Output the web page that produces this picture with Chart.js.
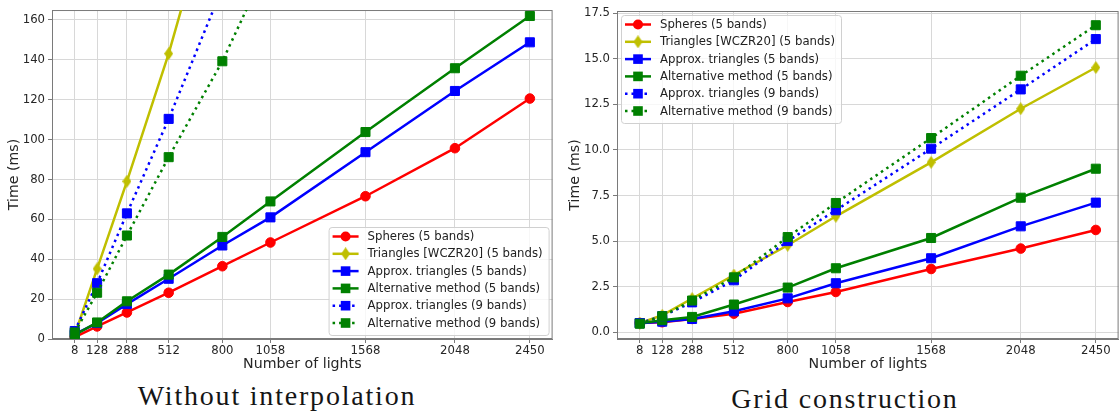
<!DOCTYPE html>
<html>
<head>
<meta charset="utf-8">
<script src="https://cdn.jsdelivr.net/npm/chart.js@4.4.0/dist/chart.umd.min.js"></script>
<style>
  html, body { margin: 0; padding: 0; background: #fff; width: 1120px; height: 416px; overflow: hidden; }
  #leftChart { position: absolute; left: 0; top: 0; }
  #rightChart { position: absolute; left: 560px; top: 0; }
  .caption { position: absolute; font-family: 'Liberation Serif', serif; font-size: 28px; line-height: 28px;
             color: #151515; letter-spacing: 1.8px; text-align: center; white-space: nowrap; }
</style>
</head>
<body>
<canvas id="leftChart" width="560" height="373"></canvas>
<canvas id="rightChart" width="566" height="373"></canvas>
<div class="caption" style="left:0; width:554px; top:382px;">Without interpolation</div>
<div class="caption" style="left:565px; width:560px; top:385px;">Grid construction</div>
<script>
// x values shared by both plots
const lights = [8, 128, 288, 512, 800, 1058, 1568, 2048, 2450]
const seriesLabels = [
	'Spheres (5 bands)',
	'Triangles [WCZR20] (5 bands)',
	'Approx. triangles (5 bands)',
	'Alternative method (5 bands)',
	'Approx. triangles (9 bands)',
	'Alternative method (9 bands)',
]

// without interpolation (ms)
const noInterpSpheres = [1.0, 6.3, 13.3, 23.2, 36.5, 48.4, 71.6, 95.7, 120.6]
const noInterpTriangles = [2.0, 35.2, 79.1, 143.1, 238, 330, 520, 700, 860]
const noInterpApprox5 = [2.5, 8.0, 17.5, 30.2, 46.9, 61.0, 93.7, 124.4, 148.8]
const noInterpAlt5 = [2.0, 8.3, 18.9, 32.3, 51.2, 69.0, 103.8, 135.8, 162.0]
const noInterpApprox9 = [4.0, 28.0, 63.0, 110.4, 176, 235, 350, 460, 550]
const noInterpAlt9 = [3.3, 23.2, 51.9, 91.2, 139.3, 191, 295, 395, 475]

// grid construction (ms)
const gridSpheres = [0.51, 0.55, 0.73, 1.02, 1.66, 2.21, 3.47, 4.59, 5.61]
const gridTriangles = [0.5, 0.93, 1.85, 3.14, 4.77, 6.36, 9.32, 12.26, 14.52]
const gridApprox5 = [0.5, 0.58, 0.73, 1.15, 1.86, 2.69, 4.06, 5.81, 7.11]
const gridAlt5 = [0.5, 0.66, 0.84, 1.52, 2.45, 3.51, 5.17, 7.38, 8.97]
const gridApprox9 = [0.5, 0.88, 1.64, 2.85, 5.0, 6.69, 10.07, 13.32, 16.08]
const gridAlt9 = [0.47, 0.88, 1.74, 3.01, 5.22, 7.09, 10.65, 14.07, 16.84]

const leftYTicks = [0, 20, 40, 60, 80, 100, 120, 140, 160]
const rightYTicks = [0, 2.5, 5, 7.5, 10, 12.5, 15, 17.5]

const colors = ['#ff0000', '#bfbf00', '#0000ff', '#008000', '#0000ff', '#008000']
const markers = ['circle', 'thinDiamond', 'rect', 'rect', 'rect', 'rect']
const dotted = [false, false, false, false, true, true]

const FONT = 'DejaVu Sans'
const TEXT = '#262626'
const SPINE = '#7a7a7a'
const GRID = '#d8d8d8'

// matplotlib style thin diamond marker
function thinDiamond(color) {
	const c = document.createElement('canvas')
	c.width = 9
	c.height = 13
	const g = c.getContext('2d')
	g.fillStyle = color
	g.beginPath()
	g.moveTo(4.5, 0)
	g.lineTo(9, 6.5)
	g.lineTo(4.5, 13)
	g.lineTo(0, 6.5)
	g.closePath()
	g.fill()
	return c
}

function makeDatasets(series) {
	return series.map((vals, i) => ({
		label: seriesLabels[i],
		data: lights.map((x, j) => ({ x: x, y: vals[j] })),
		borderColor: colors[i],
		backgroundColor: colors[i],
		borderWidth: 2.5,
		borderDash: dotted[i] ? [2.5, 4] : [],
		pointStyle: markers[i] === 'thinDiamond' ? thinDiamond(colors[i]) : markers[i],
		pointRadius: markers[i] === 'circle' ? 4.8 : 6.4,
		pointBorderWidth: 1,
		pointBorderColor: colors[i],
		pointBackgroundColor: colors[i],
		tension: 0,
		fill: false,
		order: series.length - i,
	}))
}

// frame around the plot area (top and right spines)
const frame = {
	id: 'frame',
	beforeDatasetsDraw(chart) {
		const { ctx, chartArea: a } = chart
		ctx.save()
		ctx.strokeStyle = SPINE
		ctx.lineWidth = 1
		ctx.strokeRect(a.left + 0.5, a.top + 0.5, a.right - a.left - 1, a.bottom - a.top - 1)
		ctx.restore()
	},
}

// legend box drawn inside the plot like matplotlib does
const boxLegend = {
	id: 'boxLegend',
	afterDatasetsDraw(chart, args, opts) {
		const { ctx, chartArea: a } = chart
		const sets = chart.data.datasets
		const rowH = 17.3
		ctx.save()
		ctx.font = '11.7px "' + FONT + '"'
		const textW = Math.max(...sets.map((d) => ctx.measureText(d.label).width))
		const w = 39 + textW + 6
		const h = 108
		const x0 = opts.corner === 'br' ? a.right - 4 - w : a.left + 4
		const y0 = opts.corner === 'br' ? a.bottom - 4 - h : a.top + 4
		ctx.fillStyle = 'rgba(255,255,255,0.8)'
		ctx.strokeStyle = '#d0d0d0'
		ctx.lineWidth = 1
		ctx.beginPath()
		ctx.roundRect(x0 + 0.5, y0 + 0.5, w, h, 3)
		ctx.fill()
		ctx.stroke()
		sets.forEach((d, i) => {
			const y = y0 + 9.5 + i * rowH
			ctx.strokeStyle = d.borderColor
			ctx.lineWidth = 2.5
			ctx.setLineDash(d.borderDash)
			ctx.beginPath()
			ctx.moveTo(x0 + 4, y)
			ctx.lineTo(x0 + 30, y)
			ctx.stroke()
			ctx.setLineDash([])
			const mx = x0 + 17
			ctx.fillStyle = d.borderColor
			if (d.pointStyle === 'circle') {
				ctx.beginPath()
				ctx.arc(mx, y, 5, 0, Math.PI * 2)
				ctx.fill()
			} else if (d.pointStyle === 'rect') {
				ctx.fillRect(mx - 4.8, y - 4.8, 9.6, 9.6)
			} else {
				ctx.drawImage(d.pointStyle, mx - 4.5, y - 6.5)
			}
			ctx.fillStyle = '#222'
			ctx.textBaseline = 'middle'
			ctx.fillText(d.label, x0 + 39, y + 0.5)
		})
		ctx.restore()
	},
}

function makeChart(canvasId, series, yMin, yMax, yTicks, yFmt, yWidth, titlePad, padding, corner) {
	return new Chart(document.getElementById(canvasId), {
		type: 'line',
		data: { datasets: makeDatasets(series) },
		options: {
			responsive: false,
			animation: false,
			devicePixelRatio: 1,
			layout: { padding: padding },
			plugins: {
				legend: { display: false },
				tooltip: { enabled: false },
				boxLegend: { corner: corner },
			},
			scales: {
				x: {
					type: 'linear',
					min: -114,
					max: 2572,
					afterBuildTicks: (s) => {
						s.ticks = lights.map((v) => ({ value: v }))
					},
					afterFit: (s) => {
						s.height = 34
					},
					ticks: {
						autoSkip: false,
						maxRotation: 0,
						padding: 1,
						color: TEXT,
						font: { family: FONT, size: 11.7 },
						callback: (v) => String(v),
					},
					grid: { color: GRID, tickColor: SPINE, tickLength: 4 },
					border: { color: SPINE },
					title: {
						display: true,
						text: 'Number of lights',
						color: TEXT,
						font: { family: FONT, size: 14.2 },
						padding: { top: 0, bottom: 0 },
					},
				},
				y: {
					min: yMin,
					max: yMax,
					afterBuildTicks: (s) => {
						s.ticks = yTicks.map((v) => ({ value: v }))
					},
					afterFit: (s) => {
						s.width = yWidth
					},
					ticks: {
						autoSkip: false,
						padding: 3,
						color: TEXT,
						font: { family: FONT, size: 11.7 },
						callback: yFmt,
					},
					grid: { color: GRID, tickColor: SPINE, tickLength: 4 },
					border: { color: SPINE },
					title: {
						display: true,
						text: 'Time (ms)',
						color: TEXT,
						font: { family: FONT, size: 14.2 },
						padding: { top: titlePad, bottom: 0 },
					},
				},
			},
		},
		plugins: [frame, boxLegend],
	})
}

makeChart(
	'leftChart',
	[noInterpSpheres, noInterpTriangles, noInterpApprox5, noInterpAlt5, noInterpApprox9, noInterpAlt9],
	0, 165, leftYTicks, (v) => String(v), 52, 5.5,
	{ top: 8, right: 6, left: 0, bottom: 0 }, 'br'
)

makeChart(
	'rightChart',
	[gridSpheres, gridTriangles, gridApprox5, gridAlt5, gridApprox9, gridAlt9],
	-0.37, 17.62, rightYTicks, (v) => v.toFixed(1), 57, 6.5,
	{ top: 11, right: 4, left: 0, bottom: 0 }, 'tl'
)
</script>
</body>
</html>
